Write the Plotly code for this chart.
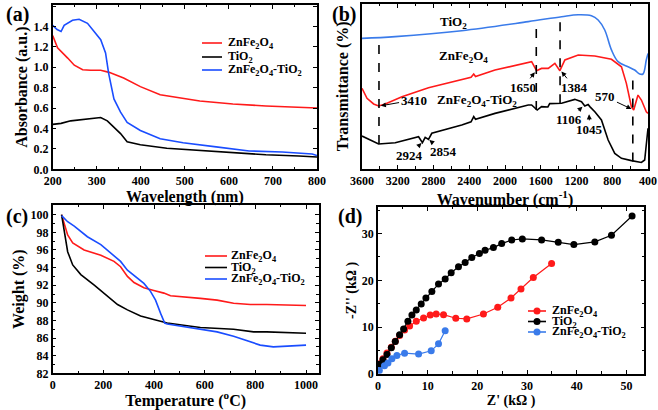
import plotly.graph_objects as go

# ---------------- (a) UV-Vis absorbance ----------------
a_zft_x = [200, 210, 219, 226, 245, 260, 279, 294, 309, 320, 327, 339, 354, 369, 399, 444, 496, 571, 646, 721, 789, 800]
a_zft_y = [1.41, 1.37, 1.35, 1.41, 1.46, 1.47, 1.43, 1.35, 1.27, 1.14, 0.94, 0.69, 0.56, 0.46, 0.38, 0.30, 0.26, 0.22, 0.18, 0.17, 0.15, 0.135]
a_zf_x = [200, 211, 234, 249, 268, 286, 309, 328, 361, 399, 444, 474, 534, 609, 684, 800]
a_zf_y = [1.31, 1.19, 1.09, 1.02, 0.976, 0.97, 0.97, 0.95, 0.895, 0.81, 0.73, 0.71, 0.67, 0.64, 0.62, 0.60]
a_ti_x = [200, 219, 241, 264, 286, 309, 324, 339, 354, 369, 399, 459, 534, 609, 684, 759, 800]
a_ti_y = [0.44, 0.45, 0.475, 0.485, 0.50, 0.507, 0.475, 0.41, 0.35, 0.27, 0.24, 0.207, 0.184, 0.162, 0.142, 0.13, 0.12]

# ---------------- (b) FTIR ----------------
b_ti_x = [3600, 3228, 2484, 1740, 1367, 1181, 1033, 958, 884, 809, 735, 623, 549, 493, 456, 419, 400]
b_ti_y = [79.1, 80.2, 83.8, 89.3, 92.3, 93.5, 92.9, 90.3, 84.2, 72.1, 65.0, 61.9, 59.9, 57.5, 57.5, 66.0, 70.0]
b_zf_x = [3600, 3544, 3470, 3414, 3340, 3153, 2856, 2484, 2380, 2350, 2330, 2112, 1740, 1702, 1647, 1591, 1516, 1442, 1386, 1330, 1181, 995, 809, 697, 642, 586, 560, 512, 474, 419, 400]
b_zf_y = [48.8, 42.7, 39.3, 38.1, 39.3, 43.7, 49.2, 53.8, 55.5, 57.5, 56.0, 59.9, 64.4, 65.0, 59.5, 60.9, 60.9, 64.0, 59.5, 66.0, 69.0, 68.4, 66.4, 61.9, 51.8, 37.7, 35.6, 44.7, 41.7, 34.6, 33.6]
b_c_x = [3600, 3414, 3228, 3005, 2967, 2924, 2893, 2856, 2819, 2484, 2380, 2350, 2330, 2112, 1740, 1702, 1640, 1591, 1520, 1500, 1367, 1219, 1144, 1107, 1070, 1051, 995, 921, 846, 772, 697, 586, 474, 437, 419, 400]
b_c_y = [19.8, 15.0, 15.8, 19.0, 19.4, 15.8, 19.0, 17.8, 21.5, 26.5, 28.5, 31.6, 30.0, 33.6, 38.7, 38.7, 35.6, 37.7, 37.5, 39.5, 39.7, 42.1, 40.7, 38.1, 39.0, 37.7, 34.6, 29.6, 17.4, 9.3, 6.3, 4.9, 3.8, 5.3, 15.4, 24.5]
b_peak_x = [3410, 1650, 1384, 570]
b_peak_y0 = [15.0, 35.6, 39.7, 4.3]
b_peak_y1 = [78.1, 90.3, 91.3, 58.9]
b_lbl_text = ["3410", "1650", "1384", "570", "1106", "1045", "2924", "2854"]
b_lbl_x = [3023, 1795, 1226, 876, 1286, 1051, 3072, 2688]
b_lbl_y = [41.7, 49.4, 49.4, 43.7, 30.0, 23.9, 8.3, 10.3]
b_tip_x = [3400, 1660, 1375, 575, 1125, 1060, 2925, 2855]
b_tip_y = [38.1, 59.0, 59.5, 36.0, 38.0, 33.6, 16.0, 17.8]

# ---------------- (c) TGA ----------------
c_zf_x = [35, 46, 59, 79, 124, 190, 242, 268, 295, 321, 360, 399, 439, 465, 518, 583, 649, 714, 780, 845, 1000]
c_zf_y = [100, 98.9, 97.7, 96.8, 96.0, 95.4, 94.7, 94.1, 93.0, 92.3, 91.7, 91.4, 91.1, 90.8, 90.7, 90.5, 90.3, 89.95, 89.8, 89.8, 89.7]
c_ti_x = [35, 48, 59, 79, 111, 164, 216, 256, 295, 347, 399, 452, 531, 583, 714, 793, 845, 1000]
c_ti_y = [100, 97.7, 95.8, 94.3, 93.2, 92.0, 90.7, 89.8, 89.2, 88.5, 88.1, 87.7, 87.4, 87.2, 87.0, 86.7, 86.7, 86.55]
c_zft_x = [35, 59, 85, 137, 190, 242, 268, 295, 321, 360, 386, 406, 426, 442, 452, 518, 583, 649, 714, 780, 819, 871, 937, 1000]
c_zft_y = [99.9, 99.2, 98.7, 97.5, 96.6, 95.3, 94.7, 93.7, 93.1, 92.2, 91.3, 90.3, 88.8, 87.7, 87.6, 87.3, 87.0, 86.7, 86.2, 85.6, 85.2, 85.0, 85.1, 85.2]

# ---------------- (d) Nyquist ----------------
d_zf_x = [0.27, 1.0, 1.81, 2.68, 3.48, 4.35, 5.35, 6.36, 7.70, 9.17, 10.51, 11.71, 13.19, 15.66, 17.87, 21.22, 24.10, 26.77, 28.78, 31.26, 34.94]
d_zf_y = [2.13, 3.2, 4.41, 5.69, 6.97, 8.17, 9.38, 10.23, 11.23, 11.94, 12.58, 12.79, 12.65, 11.87, 11.73, 12.79, 14.21, 16.20, 18.12, 20.61, 23.6]
d_ti_x = [0.27, 1.0, 1.81, 2.68, 3.48, 4.35, 5.15, 6.02, 6.83, 7.70, 8.70, 9.64, 10.84, 12.18, 13.52, 14.73, 16.20, 17.54, 18.88, 20.41, 21.55, 23.23, 24.90, 26.91, 29.05, 32.93, 36.28, 39.42, 43.64, 46.99, 51.14]
d_ti_y = [1.99, 2.99, 4.12, 5.54, 6.89, 8.32, 9.59, 11.23, 12.58, 13.65, 14.93, 16.20, 17.63, 19.19, 20.26, 21.61, 22.89, 23.81, 24.88, 25.73, 26.44, 27.01, 27.86, 28.64, 28.86, 28.64, 28.14, 27.65, 28.22, 29.64, 33.76]
d_zft_x = [0.27, 1.3, 2.0, 2.8, 3.8, 5.35, 8.17, 10.71, 12.18, 13.52]
d_zft_y = [0.71, 1.7, 2.3, 3.2, 3.9, 4.4, 4.2, 4.9, 6.4, 9.2]

series_names = ["ZnFe<sub>2</sub>O<sub>4</sub>", "TiO<sub>2</sub>", "ZnFe<sub>2</sub>O<sub>4</sub>-TiO<sub>2</sub>"]
RED, BLK, BLU = "#ff1a1a", "#000000", "#1a4dff"
BLU_D = "#3a7bea"
FONT = "Liberation Serif"
W, H = 658, 410


def px(x):
    return x / W


def py(y):
    return 1 - y / H


fig = go.Figure()
lw = 1.6
# (a)
fig.add_trace(go.Scatter(x=a_zf_x, y=a_zf_y, mode="lines", line=dict(color=RED, width=lw), xaxis="x", yaxis="y"))
fig.add_trace(go.Scatter(x=a_ti_x, y=a_ti_y, mode="lines", line=dict(color=BLK, width=lw), xaxis="x", yaxis="y"))
fig.add_trace(go.Scatter(x=a_zft_x, y=a_zft_y, mode="lines", line=dict(color=BLU, width=lw), xaxis="x", yaxis="y"))
# (b)
fig.add_trace(go.Scatter(x=b_ti_x, y=b_ti_y, mode="lines", line=dict(color=BLU_D, width=lw, shape="spline"), xaxis="x2", yaxis="y2"))
fig.add_trace(go.Scatter(x=b_zf_x, y=b_zf_y, mode="lines", line=dict(color=RED, width=lw), xaxis="x2", yaxis="y2"))
fig.add_trace(go.Scatter(x=b_c_x, y=b_c_y, mode="lines", line=dict(color=BLK, width=lw), xaxis="x2", yaxis="y2"))
for pk, y0, y1 in zip(b_peak_x, b_peak_y0, b_peak_y1):
    fig.add_trace(go.Scatter(x=[pk, pk], y=[y0, y1], mode="lines", line=dict(color="black", width=1.6, dash="dash"),
                             xaxis="x2", yaxis="y2"))
# (c)
fig.add_trace(go.Scatter(x=c_zf_x, y=c_zf_y, mode="lines", line=dict(color=RED, width=lw), xaxis="x3", yaxis="y3"))
fig.add_trace(go.Scatter(x=c_ti_x, y=c_ti_y, mode="lines", line=dict(color=BLK, width=lw), xaxis="x3", yaxis="y3"))
fig.add_trace(go.Scatter(x=c_zft_x, y=c_zft_y, mode="lines", line=dict(color=BLU, width=lw), xaxis="x3", yaxis="y3"))
# (d)
fig.add_trace(go.Scatter(x=d_zf_x, y=d_zf_y, mode="lines+markers", line=dict(color=RED, width=1.2), marker=dict(size=7, color=RED), xaxis="x4", yaxis="y4"))
fig.add_trace(go.Scatter(x=d_ti_x, y=d_ti_y, mode="lines+markers", line=dict(color=BLK, width=1.2), marker=dict(size=7, color=BLK), xaxis="x4", yaxis="y4"))
fig.add_trace(go.Scatter(x=d_zft_x, y=d_zft_y, mode="lines+markers", line=dict(color=BLU_D, width=1.2), marker=dict(size=7, color=BLU_D), xaxis="x4", yaxis="y4"))

tickfont = dict(family=FONT, size=12, color="black", weight="bold")
titlefont = dict(family=FONT, size=16, color="black", weight="bold")


def ax(domain, rng, dtick, minor, title, anchor, standoff=2, tfont=titlefont, **kw):
    d = dict(domain=domain, range=rng, dtick=dtick, showgrid=False, zeroline=False, showline=True, linecolor="black",
             linewidth=1.5, mirror="allticks", ticks="inside", ticklen=4, tickwidth=1.3, tickcolor="black",
             tickfont=tickfont, title=dict(text=title, font=tfont, standoff=standoff), anchor=anchor,
             automargin=False)
    if minor:
        d["minor"] = dict(dtick=minor, ticks="inside", ticklen=2.5, tickcolor="black", tickwidth=1)
    d.update(kw)
    return d


dfont = dict(family=FONT, size=14, color="black", weight="bold")
layout = dict(
    width=W, height=H, margin=dict(l=0, r=0, t=0, b=0), paper_bgcolor="white", plot_bgcolor="white",
    showlegend=False,
    xaxis=ax([px(52.7), px(317)], [200, 800], 100, 50, "Wavelength (nm)", "y", tick0=200),
    yaxis=ax([py(169.3), py(5)], [0, 1.61], 0.2, None, "Absorbance (a.u.)", "x", tickformat=".1f"),
    xaxis2=ax([px(362), px(648)], [3600, 400], 400, 200, "Wavenumber (cm<sup>-1</sup>)", "y2", tick0=400),
    yaxis2=ax([py(168.7), py(4)], [0, 100], 20, None, "Transmittance (%)", "x2", standoff=8, showticklabels=False, ticks="", mirror=True),
    xaxis3=ax([px(52.7), px(318.7)], [0, 1050], 200, 100, "Temperature (<sup>o</sup>C)", "y3"),
    yaxis3=ax([py(373.3), py(205)], [82, 101.1], 2, 1, "Weight (%)", "x3"),
    xaxis4=ax([px(378), px(644.3)], [0, 53.6], 10, 5, "Z' (kΩ )", "y4", tfont=dfont),
    yaxis4=ax([py(373.7), py(207)], [0, 35.7], 10, 5, "-Z'' (kΩ )", "x4", tfont=dfont),
)
fig.update_layout(**layout)

anns, shapes = [], []
for t, xp, yp in [("(a)", 4, 1), ("(b)", 330, 1), ("(c)", 4, 203), ("(d)", 336, 203)]:
    anns.append(dict(text=t, x=px(xp), y=py(yp), xref="paper", yref="paper", xanchor="left", yanchor="top", showarrow=False,
                     font=dict(family=FONT, size=20, color="black", weight="bold")))

# manual legends (pixel layout of the reference)
colors_ac = [RED, BLK, BLU]
colors_d = [RED, BLK, BLU_D]
for (x0, x1, tx, rows, fs, cols, dots) in [
    (202, 222, 226, [43, 57, 70], 12, colors_ac, False),
    (205, 227, 229, [256, 267.5, 279], 12, colors_ac, False),
    (528, 546, 550, [311, 321.5, 332], 12, colors_d, True),
]:
    for name, yy, c in zip(series_names, rows, cols):
        shapes.append(dict(type="line", xref="paper", yref="paper", x0=px(x0), x1=px(x1), y0=py(yy), y1=py(yy),
                           line=dict(color=c, width=1.6)))
        if dots:
            xc = px((x0 + x1) / 2)
            shapes.append(dict(type="circle", xref="paper", yref="paper", xsizemode="pixel", ysizemode="pixel",
                               xanchor=xc, yanchor=py(yy), x0=-3.5, x1=3.5, y0=-3.5, y1=3.5,
                               fillcolor=c, line=dict(color=c, width=0)))
        anns.append(dict(text=name, x=px(tx), y=py(yy), xref="paper", yref="paper", xanchor="left", yanchor="middle",
                         showarrow=False, font=dict(family=FONT, size=fs, color="black", weight="bold")))

bfont = dict(family=FONT, size=13, color="black", weight="bold")
anns.append(dict(text=series_names[1], x=2577, y=88.7, xref="x2", yref="y2", showarrow=False, font=bfont))
anns.append(dict(text=series_names[0], x=2465, y=68.4, xref="x2", yref="y2", showarrow=False, font=bfont))
anns.append(dict(text=series_names[2], x=2316, y=41.7, xref="x2", yref="y2", showarrow=False, font=bfont))
for t, lx, ly, tx, ty in zip(b_lbl_text, b_lbl_x, b_lbl_y, b_tip_x, b_tip_y):
    anns.append(dict(text=t, x=tx, y=ty, ax=lx, ay=ly, xref="x2", yref="y2", axref="x2", ayref="y2", showarrow=True,
                     arrowhead=2, arrowsize=1, arrowwidth=1, arrowcolor="black", font=bfont, standoff=1))
fig.update_layout(annotations=anns, shapes=shapes)

# remove the default 8px page margin so the figure fills the 658x410 window; hide the mode bar
fig.write_html("out.html", config={"displayModeBar": False},
               post_script="document.body.style.margin='0';document.body.style.overflow='hidden';")
